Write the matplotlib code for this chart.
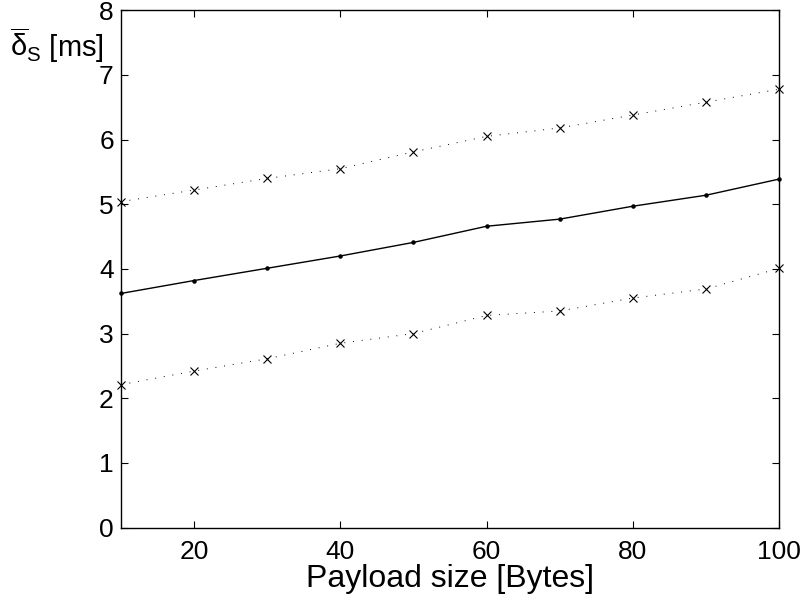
import matplotlib
matplotlib.use('Agg')
import matplotlib.pyplot as plt

plt.rcParams['font.family'] = ['Liberation Sans', 'DejaVu Sans']
plt.rcParams['mathtext.fontset'] = 'custom'
plt.rcParams['mathtext.rm'] = 'Liberation Sans'
plt.rcParams['mathtext.it'] = 'Liberation Sans'
plt.rcParams['mathtext.sf'] = 'Liberation Sans'
plt.rcParams['mathtext.default'] = 'regular'

payload = [10, 20, 30, 40, 50, 60, 70, 80, 90, 100]
delay_mean = [3.62, 3.82, 4.01, 4.20, 4.41, 4.66, 4.77, 4.97, 5.14, 5.39]
delay_upper = [5.04, 5.22, 5.40, 5.55, 5.81, 6.05, 6.18, 6.38, 6.58, 6.78]
delay_lower = [2.21, 2.42, 2.61, 2.85, 3.00, 3.28, 3.35, 3.55, 3.69, 4.01]
xticks = [20, 40, 60, 80, 100]
yticks = [0, 1, 2, 3, 4, 5, 6, 7, 8]

fig = plt.figure(figsize=(8.05, 6.05), dpi=100)
ax = fig.add_axes((0.150, 0.128, 0.818, 0.855))

dots = (0, (1, 8))
ax.plot(payload, delay_upper, color='black', linestyle=dots, linewidth=0.7,
        marker='x', markersize=6, markeredgewidth=0.8, clip_on=False)
ax.plot(payload, delay_mean, color='black', linestyle='-', linewidth=1.0,
        marker='.', markersize=4.5, clip_on=False)
ax.plot(payload, delay_lower, color='black', linestyle=dots, linewidth=0.7,
        marker='x', markersize=6, markeredgewidth=0.8, clip_on=False)

ax.set_xlim(10, 100)
ax.set_ylim(0, 8)
ax.set_xticks(xticks)
ax.set_yticks(yticks)
ax.tick_params(direction='in', top=True, right=True, length=5, width=0.8,
               labelsize=19)
ax.tick_params(axis='y', pad=5)
ax.tick_params(axis='x', pad=9)
for s in ax.spines.values():
    s.set_linewidth(1.0)

ax.set_xlabel('Payload size [Bytes]', fontsize=23, labelpad=0)
fig.text(0.012, 0.958, r'$\overline{\delta}_{\mathrm{S}}$ [ms]', fontsize=21,
         ha='left', va='top')

fig.savefig('out.png', dpi=100)
